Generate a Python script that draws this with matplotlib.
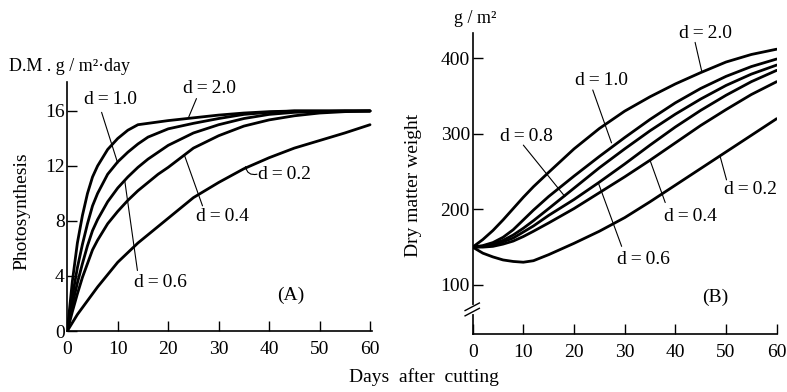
import numpy as np
import matplotlib
matplotlib.use('Agg')
import matplotlib.pyplot as plt

plt.rcParams['font.family'] = ['Liberation Serif', 'DejaVu Serif']
plt.rcParams['font.size'] = 14

# ---------------------------------------------
# (A) photosynthesis, D.M. g/m2/day
# ---------------------------------------------
DAYS_A = [0, 1, 2, 3, 4, 5, 6, 8, 10, 12, 14, 16, 18, 20, 25, 30, 35, 40, 45, 50, 55, 60]
A_20 = [0, 3.6, 6.4, 8.4, 10.0, 11.2, 12.0, 13.2, 14.0, 14.6, 15.0, 15.1, 15.2, 15.3,
        15.5, 15.7, 15.85, 15.95, 16.0, 16.0, 16.0, 16.0]
A_10 = [0, 2.5, 4.6, 6.3, 7.8, 9.1, 10.0, 11.4, 12.3, 13.0, 13.6, 14.1, 14.4, 14.7,
        15.1, 15.45, 15.75, 15.9, 16.0, 16.0, 16.0, 16.0]
A_06 = [0, 1.9, 3.5, 4.9, 6.2, 7.3, 8.1, 9.4, 10.4, 11.2, 11.9, 12.5, 13.0, 13.5,
        14.4, 15.0, 15.45, 15.75, 15.9, 15.95, 16.0, 16.0]
A_04 = [0, 1.4, 2.7, 3.9, 4.9, 5.9, 6.6, 7.8, 8.7, 9.5, 10.2, 10.8, 11.4, 11.9,
        13.3, 14.2, 14.9, 15.35, 15.65, 15.85, 15.95, 16.0]
A_02 = [0, 0.6, 1.2, 1.7, 2.2, 2.7, 3.2, 4.1, 5.0, 5.7, 6.4, 7.0, 7.6, 8.2,
        9.7, 10.8, 11.8, 12.6, 13.3, 13.85, 14.4, 15.0]

# ---------------------------------------------
# (B) dry matter weight, g/m2
# ---------------------------------------------
DAYS_B = [0, 2, 4, 6, 8, 10, 12, 15, 20, 25, 30, 35, 40, 45, 50, 55, 60]
B_20 = [150, 160, 172, 186, 201, 216, 230, 249, 280, 307, 330, 349, 366, 381, 395, 405, 412]
B_10 = [150, 152, 156, 163, 173, 186, 199, 217, 244, 270, 295, 319, 341, 360, 376, 389, 399]
B_08 = [150, 151, 154, 159, 166, 175, 185, 201, 228, 255, 280, 304, 326, 346, 364, 379, 391]
B_06 = [150, 151, 153, 157, 162, 170, 178, 192, 213, 236, 260, 285, 309, 331, 351, 369, 384]
B_04 = [150, 150, 151, 154, 158, 164, 171, 182, 201, 222, 243, 265, 288, 311, 332, 352, 369]
B_02 = [150, 142, 137, 133, 131, 130, 132, 140, 155, 171, 189, 210, 232, 254, 276, 298, 320]

XTICKS = [0, 10, 20, 30, 40, 50, 60]
YTICKS_A = [0, 4, 8, 12, 16]
YTICKS_B = [100, 200, 300, 400]

LW = 2.0
LEAD = dict(arrowstyle='-', lw=0.8, color='black', shrinkA=0, shrinkB=0)
TS = '\u2009'  # thin space, the scan has loose letter spacing


def dlab(v):
    return 'd' + TS + '=' + TS + v


fig = plt.figure(figsize=(7.87, 3.92), dpi=100)
axA = fig.add_axes([0.0855, 0.1556, 0.3866, 0.635])
axB = fig.add_axes([0.6006, 0.148, 0.3863, 0.767])


def style(ax):
    for s in ['top', 'right']:
        ax.spines[s].set_visible(False)
    for s in ['left', 'bottom']:
        ax.spines[s].set_linewidth(1.2)
    ax.tick_params(direction='in', length=7, width=1.0, labelsize=14)
    ax.tick_params(axis='x', pad=7)
    ax.tick_params(axis='y', pad=2)
    ax.set_xticks(XTICKS)


# ---------------- panel A ----------------
for vals in [A_20, A_10, A_06, A_04, A_02]:
    axA.plot(DAYS_A, vals, color='black', lw=LW, solid_capstyle='round')
style(axA)
axA.set_xlim(0, 60.3)
axA.set_ylim(0, 18.1)
axA.set_yticks(YTICKS_A)
axA.set_ylabel('Photosynthesis', fontsize=14)
axA.yaxis.set_label_coords(-0.12, 0.48)
axA.text(-0.19, 1.03, 'D.M . g / m²·day', transform=axA.transAxes, fontsize=13,
         ha='left', va='bottom')

axA.text(28.1, 17.6, dlab('2.0'), ha='center', va='center')
axA.annotate('', xy=(24.0, 15.5), xytext=(25.6, 16.9), arrowprops=LEAD)
axA.text(8.6, 16.8, dlab('1.0'), ha='center', va='center')
axA.annotate('', xy=(10.0, 12.2), xytext=(6.8, 15.9), arrowprops=LEAD)
axA.text(18.5, 3.5, dlab('0.6'), ha='center', va='center')
axA.annotate('', xy=(11.4, 10.9), xytext=(13.9, 4.4), arrowprops=LEAD)
axA.text(30.8, 8.3, dlab('0.4'), ha='center', va='center')
axA.annotate('', xy=(23.2, 12.8), xytext=(26.8, 9.1), arrowprops=LEAD)
axA.text(37.7, 11.4, dlab('0.2'), ha='left', va='center')
axA.annotate('', xy=(35.3, 11.95), xytext=(37.6, 11.4),
             arrowprops=dict(LEAD, connectionstyle='arc3,rad=-0.5'))
axA.text(44.2, 2.6, '(A)', ha='center', va='center')

# ---------------- panel B ----------------
for vals in [B_20, B_10, B_08, B_06, B_04, B_02]:
    axB.plot(DAYS_B, vals, color='black', lw=LW, solid_capstyle='round')
style(axB)
axB.set_xlim(0, 60)
axB.set_ylim(35, 433)
axB.set_yticks(YTICKS_B)
axB.set_ylabel('Dry matter weight', fontsize=14)
axB.yaxis.set_label_coords(-0.168, 0.495)
axB.text(-0.06, 1.02, 'g / m²', transform=axB.transAxes, fontsize=13,
         ha='left', va='bottom')

# axis break on the y spine
ytr = axB.get_yaxis_transform()
axB.plot([0, 0], [64, 71], color='white', lw=3, transform=ytr, clip_on=False, zorder=5)
for yb in [64, 71]:
    axB.plot([-0.025, 0.022], [yb - 5, yb + 5], color='black', lw=1.0,
             transform=ytr, clip_on=False, zorder=6)

axB.text(45.9, 433, dlab('2.0'), ha='center', va='center')
axB.annotate('', xy=(45.2, 383), xytext=(43.9, 421), arrowprops=LEAD)
axB.text(25.5, 371, dlab('1.0'), ha='center', va='center')
axB.annotate('', xy=(27.4, 288), xytext=(23.7, 358), arrowprops=LEAD)
axB.text(10.7, 296, dlab('0.8'), ha='center', va='center')
axB.annotate('', xy=(18.2, 217), xytext=(10.0, 285), arrowprops=LEAD)
axB.text(33.8, 133, dlab('0.6'), ha='center', va='center')
axB.annotate('', xy=(24.8, 235), xytext=(29.4, 151), arrowprops=LEAD)
axB.text(42.9, 190, dlab('0.4'), ha='center', va='center')
axB.annotate('', xy=(35.0, 265), xytext=(38.0, 209), arrowprops=LEAD)
axB.text(54.8, 226, dlab('0.2'), ha='center', va='center')
axB.annotate('', xy=(48.8, 271), xytext=(50.1, 239), arrowprops=LEAD)
axB.text(47.8, 84, '(B)', ha='center', va='center')

fig.text(424 / 787, 1 - 377 / 392, 'Days  after  cutting', ha='center', va='center',
         fontsize=14)

fig.savefig('out.png', dpi=100)
